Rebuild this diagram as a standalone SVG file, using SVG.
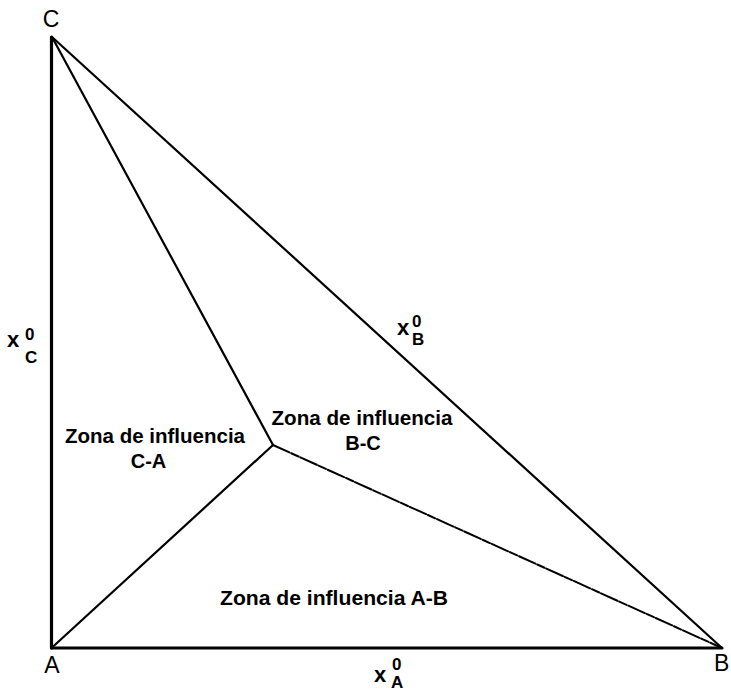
<svg xmlns="http://www.w3.org/2000/svg" width="731" height="691" viewBox="0 0 731 691">
<style>
.ln{stroke:#000;fill:none;stroke-linecap:round}
.t{font-family:"Liberation Sans",Arial,sans-serif;fill:#000}
.z{font-size:20px;font-weight:bold}
.v{font-size:23px}
.x{font-size:22px;font-weight:bold}
.s{font-size:17px;font-weight:bold}
</style>
<rect width="731" height="691" fill="#fff"/>
<g id="connectors">
<line class="ln" x1="51.5" y1="37" x2="51.5" y2="648" stroke-width="3.2"/>
<line class="ln" x1="51.5" y1="648" x2="722" y2="648" stroke-width="3"/>
<line class="ln" x1="52" y1="37" x2="722" y2="648" stroke-width="2.2"/>
<line class="ln" x1="52" y1="37" x2="273" y2="445" stroke-width="2.2"/>
<line class="ln" x1="51.5" y1="648" x2="273" y2="445" stroke-width="2.2"/>
<line class="ln" x1="273" y1="445" x2="722" y2="648" stroke-width="2" stroke="#222" stroke-dasharray="18 2 8 2"/>
</g>
<g id="vertex-C"><text class="t v" x="51" y="27" text-anchor="middle">C</text></g>
<g id="vertex-A"><text class="t v" x="52" y="673" text-anchor="middle">A</text></g>
<g id="vertex-B"><text class="t v" x="714" y="671">B</text></g>
<g id="label-xC">
<text class="t x" x="7" y="347">x</text>
<text class="t s" x="25" y="340">0</text>
<text class="t s" x="25" y="363">C</text>
</g>
<g id="label-xB">
<text class="t x" x="397" y="335">x</text>
<text class="t s" x="412" y="327">0</text>
<text class="t s" x="412" y="345">B</text>
</g>
<g id="label-xA">
<text class="t x" x="374" y="682">x</text>
<text class="t s" x="392" y="670">0</text>
<text class="t s" x="391" y="688">A</text>
</g>
<g id="zone-CA">
<text class="t z" x="155" y="443" text-anchor="middle" textLength="180" lengthAdjust="spacingAndGlyphs">Zona de influencia</text>
<text class="t z" x="148.5" y="468" text-anchor="middle">C-A</text>
</g>
<g id="zone-BC">
<text class="t z" x="362" y="425" text-anchor="middle" textLength="181" lengthAdjust="spacingAndGlyphs">Zona de influencia</text>
<text class="t z" x="363" y="450" text-anchor="middle">B-C</text>
</g>
<g id="zone-AB">
<text class="t z" x="334" y="605" text-anchor="middle" textLength="228" lengthAdjust="spacingAndGlyphs">Zona de influencia A-B</text>
</g>
</svg>
